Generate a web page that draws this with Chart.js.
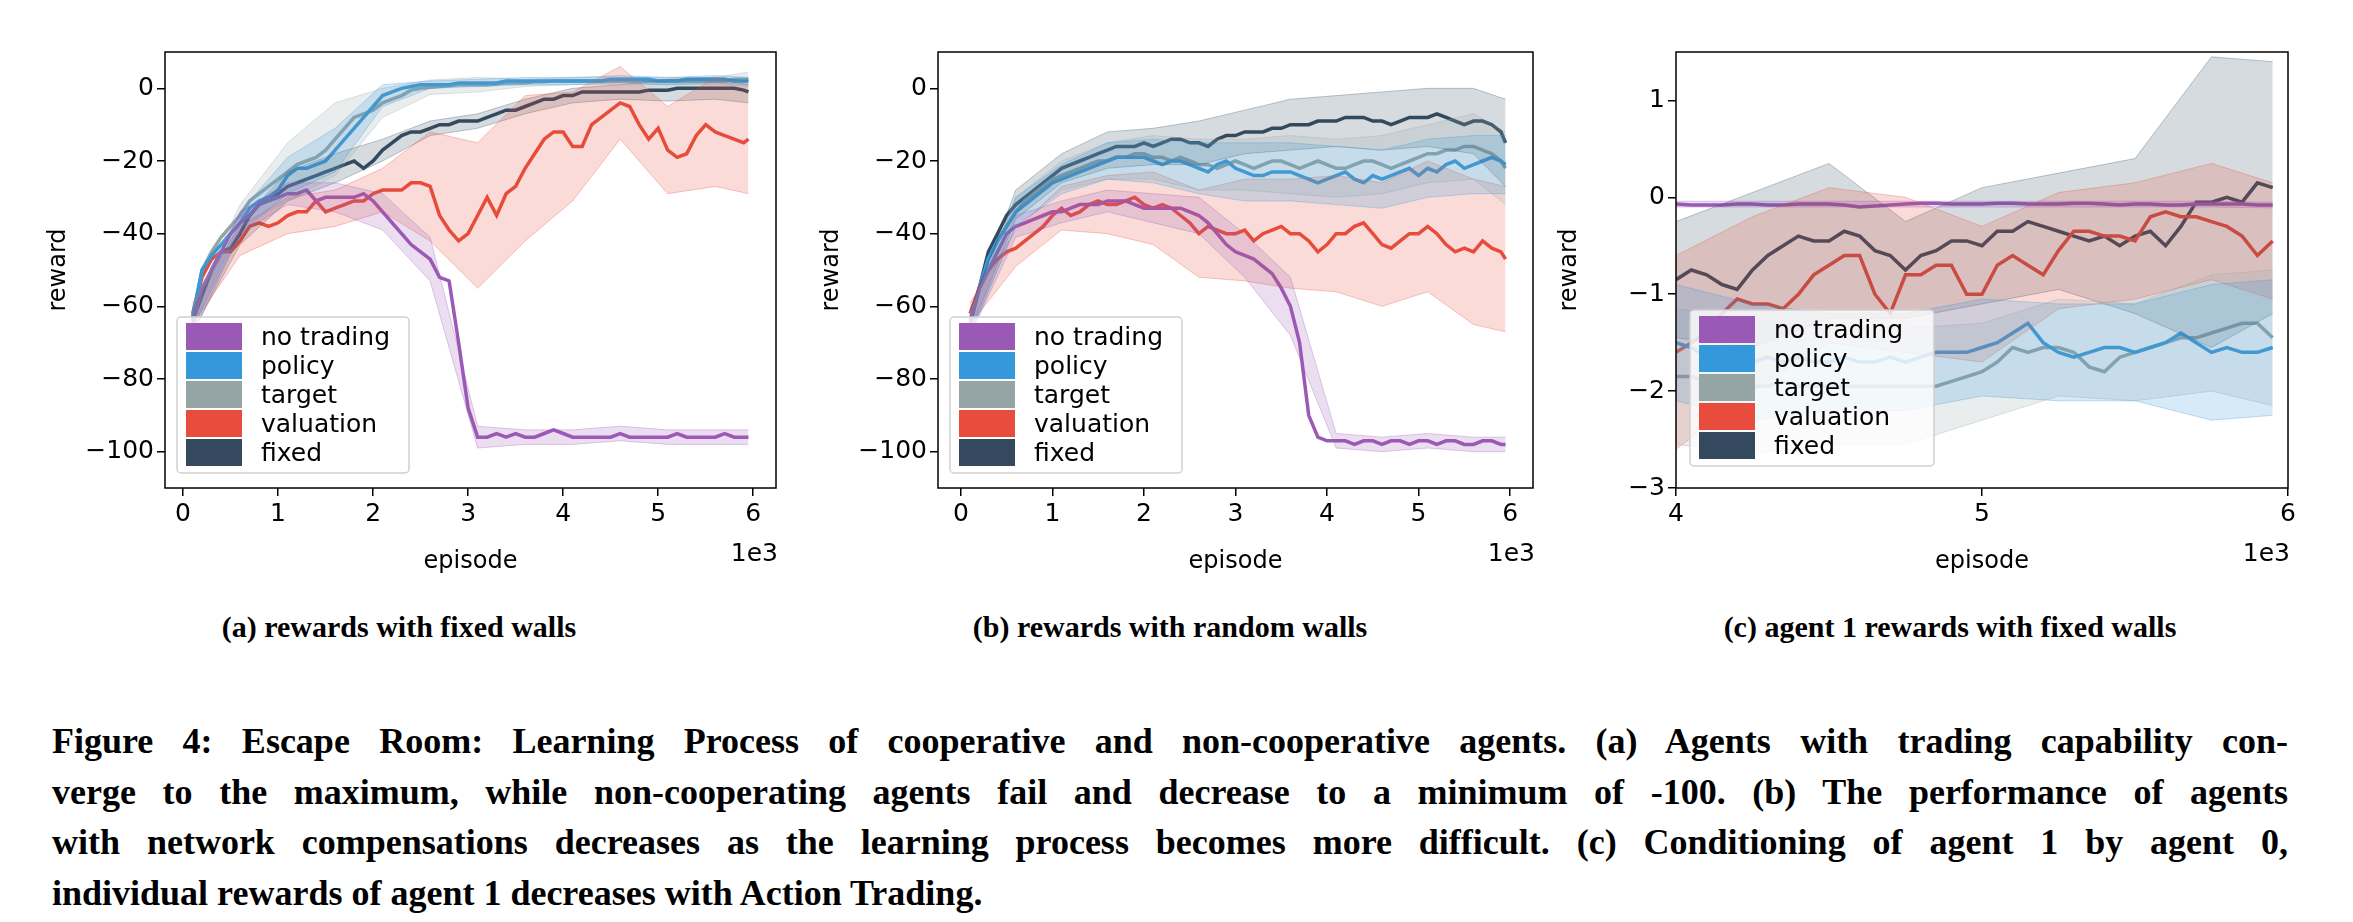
<!DOCTYPE html>
<html>
<head>
<meta charset="utf-8">
<script src="https://cdn.jsdelivr.net/npm/chart.js@4.4.0/dist/chart.umd.min.js"></script>
<style>
body { margin:0; background:#fff; width:2353px; height:922px; position:relative; overflow:hidden; }
.box { position:absolute; }
.sub { position:absolute; top:610px; font:bold 30px "Liberation Serif", serif; transform:translateX(-50%); white-space:nowrap; }
.cap { position:absolute; left:52px; width:2236px; top:716px; font:bold 36px/50.5px "Liberation Serif", serif; }
.cap div { text-align:justify; text-align-last:justify; white-space:nowrap; }
.cap div.last { text-align-last:left; }
</style>
</head>
<body>
<div class="box" style="left:40px;top:20px;width:760px;height:560px"><canvas id="ca"></canvas></div>
<div class="box" style="left:813px;top:20px;width:740px;height:560px"><canvas id="cb"></canvas></div>
<div class="box" style="left:1551px;top:20px;width:760px;height:560px"><canvas id="cc"></canvas></div>
<div class="sub" style="left:399px">(a) rewards with fixed walls</div>
<div class="sub" style="left:1170px">(b) rewards with random walls</div>
<div class="sub" style="left:1950px">(c) agent 1 rewards with fixed walls</div>
<div class="cap">
<div>Figure 4: Escape Room: Learning Process of cooperative and non-cooperative agents. (a) Agents with trading capability con-</div>
<div>verge to the maximum, while non-cooperating agents fail and decrease to a minimum of -100. (b) The performance of agents</div>
<div>with network compensations decreases as the learning process becomes more difficult. (c) Conditioning of agent 1 by agent 0,</div>
<div class="last">individual rewards of agent 1 decreases with Action Trading.</div>
</div>
<script>
const labels = ["no trading", "policy", "target", "valuation", "fixed"];
const colors = ["#9b59b6", "#3498db", "#95a5a6", "#e74c3c", "#34495e"];

// episodes 100..5950 for panels a and b
const episodesAB = [];
for (let e = 100; e <= 5900; e += 100) episodesAB.push(e);
episodesAB.push(5950);
const episodesC = [];
for (let e = 4000; e <= 5950; e += 50) episodesC.push(e);

// (a) fixed walls
const aNoTrading = [-65,-55,-50,-45,-40,-37,-35,-32,-31,-30,-29,-29,-28,-31,-30,-30,-30,-30,-29,-31,-34,-37,-40,-43,-45,-47,-52,-53,-70,-88,
  -96,-96,-95,-96,-95,-96,-96,-95,-94,-95,-96,-96,-96,-96,-96,-95,-96,-96,-96,-96,-96,-95,-96,-96,-96,-96,-95,-96,-96,-96];
const aPolicy = [-63,-50,-46,-43,-40,-37,-33,-31,-30,-28,-24,-22,-22,-21,-20,-17,-14,-11,-8,-5,-2,-1,0,0.5,1,1,1,1,1.5,1.5,
  1.5,1.5,1.5,2,2,2,2,2,2,2,2,2,2,2,2.5,2.5,2.5,2.5,2.5,2,2,2,2.5,2.5,2.5,2.5,2.5,2,2,2];
const aTarget = [-63,-50,-45,-41,-38,-35,-31,-29,-27,-25,-23,-21,-20,-19,-17,-14,-11,-8,-7,-6,-4,-3,-2,-0.5,0,0.3,0.5,0.7,1,1,
  1,1,1.2,1.5,1.5,1.5,1.8,1.8,2,2,2,2,2,2,2,2,2,2,2,2,2,2,2,2,2,2,2,2.5,2.5,2.5];
const aValuation = [-62,-52,-47,-45,-45,-42,-38,-37,-38,-37,-35,-34,-34,-31,-34,-33,-32,-31,-31,-29,-28,-28,-28,-26,-26,-27,-35,-39,-42,-40,
  -35,-30,-35,-29,-27,-22,-18,-14,-12,-12,-16,-16,-10,-8,-6,-4,-5,-10,-14,-11,-17,-19,-18,-13,-10,-12,-13,-14,-15,-14];
const aFixed = [-64,-57,-50,-45,-44,-40,-35,-32,-30,-29,-27,-26,-25,-24,-23,-22,-21,-20,-22,-20,-17,-15,-13,-12,-12,-11,-10,-10,-9,-9,
  -9,-8,-7,-6,-6,-5,-4,-3,-3,-2,-2,-1,-1,-1,-1,-1,-1,-1,-0.5,-0.5,-0.5,0,0,0,0,0,0,0,-0.5,-1];
const aSpread = [
  [3,3,3,4,5,6,3,2,2,2,2,2,2],
  [3,3,5,6,3,1,1,1,1,1,1,1,1],
  [3,3,8,10,4,2,2,1,1,1,1,1,2],
  [3,4,5,5,6,15,20,20,15,10,12,15,15],
  [3,3,4,4,3,2,2,2,2,2,3,3,3]];

// (b) random walls
const bNoTrading = [-65,-55,-50,-45,-40,-38,-37,-36,-35,-34,-34,-33,-32,-32,-32,-31,-31,-31,-32,-33,-33,-33,-33,-33,-34,-35,-37,-40,-43,-45,
  -46,-47,-49,-51,-55,-60,-70,-90,-96,-97,-97,-97,-98,-97,-97,-98,-97,-97,-98,-97,-97,-98,-97,-97,-98,-98,-97,-97,-98,-98];
const bPolicy = [-65,-55,-47,-42,-38,-34,-32,-30,-28,-26,-25,-24,-23,-22,-21,-20,-19,-19,-19,-19,-20,-21,-20,-20,-21,-22,-23,-21,-20,-22,
  -23,-24,-24,-23,-23,-23,-24,-25,-26,-25,-24,-23,-25,-26,-24,-25,-24,-23,-22,-24,-22,-23,-21,-20,-22,-21,-20,-19,-20,-21];
const bTarget = [-65,-55,-47,-42,-38,-34,-31,-29,-27,-25,-24,-23,-22,-21,-20,-20,-19,-19,-18,-18,-19,-19,-20,-19,-20,-21,-21,-22,-21,-20,
  -21,-22,-21,-20,-20,-21,-22,-21,-20,-21,-22,-22,-21,-20,-20,-21,-22,-21,-20,-19,-18,-18,-17,-17,-16,-16,-17,-18,-20,-22];
const bValuation = [-62,-55,-50,-47,-45,-44,-42,-40,-38,-35,-33,-35,-34,-32,-31,-32,-32,-31,-30,-32,-33,-32,-33,-35,-37,-40,-38,-39,-40,-40,
  -39,-42,-40,-39,-38,-40,-40,-42,-45,-43,-40,-40,-38,-37,-40,-43,-44,-42,-40,-40,-38,-40,-43,-45,-44,-45,-42,-44,-45,-47];
const bFixed = [-64,-55,-45,-40,-35,-32,-30,-28,-26,-24,-22,-21,-20,-19,-18,-17,-16,-16,-16,-15,-16,-15,-14,-14,-15,-15,-16,-14,-13,-13,
  -12,-12,-12,-11,-11,-10,-10,-10,-9,-9,-9,-8,-8,-8,-9,-9,-10,-9,-8,-8,-8,-7,-8,-9,-10,-9,-9,-10,-12,-15];
const bSpread = [
  [3,3,3,3,4,5,6,8,2,2,2,2,2],
  [3,4,4,5,6,7,8,8,8,8,8,8,8],
  [3,4,4,5,6,7,7,8,8,8,8,9,10],
  [3,5,6,8,10,12,14,15,16,17,18,20,20],
  [3,4,4,5,5,6,6,7,7,8,8,9,12]];

// (c) agent 1, episodes 4000..5950
const cNoTrading = [-0.07,-0.08,-0.08,-0.08,-0.07,-0.07,-0.08,-0.08,-0.07,-0.07,-0.07,-0.08,-0.1,-0.09,-0.08,-0.07,-0.06,-0.06,-0.07,-0.07,
  -0.07,-0.06,-0.06,-0.07,-0.07,-0.07,-0.06,-0.06,-0.07,-0.08,-0.07,-0.07,-0.08,-0.08,-0.07,-0.07,-0.07,-0.07,-0.08,-0.08];
const cPolicy = [-1.5,-1.55,-1.65,-1.7,-1.7,-1.7,-1.65,-1.7,-1.65,-1.7,-1.7,-1.65,-1.7,-1.7,-1.65,-1.7,-1.65,-1.6,-1.6,-1.6,
  -1.55,-1.5,-1.4,-1.3,-1.5,-1.6,-1.65,-1.6,-1.55,-1.55,-1.6,-1.55,-1.5,-1.4,-1.5,-1.6,-1.55,-1.6,-1.6,-1.55];
const cTarget = [-1.85,-1.85,-1.9,-1.9,-1.9,-1.95,-1.95,-1.9,-1.95,-1.95,-1.95,-1.95,-1.95,-1.95,-1.95,-1.95,-1.95,-1.95,-1.9,-1.85,
  -1.8,-1.7,-1.55,-1.6,-1.55,-1.55,-1.6,-1.75,-1.8,-1.65,-1.6,-1.55,-1.5,-1.45,-1.45,-1.4,-1.35,-1.3,-1.3,-1.45];
const cValuation = [-1.6,-1.5,-1.4,-1.2,-1.05,-1.1,-1.1,-1.15,-1.0,-0.8,-0.7,-0.6,-0.6,-1.0,-1.2,-0.8,-0.8,-0.7,-0.7,-1.0,
  -1.0,-0.7,-0.6,-0.7,-0.8,-0.55,-0.35,-0.35,-0.4,-0.4,-0.45,-0.2,-0.15,-0.2,-0.2,-0.25,-0.3,-0.4,-0.6,-0.45];
const cFixed = [-0.85,-0.75,-0.8,-0.9,-0.95,-0.75,-0.6,-0.5,-0.4,-0.45,-0.45,-0.35,-0.4,-0.55,-0.6,-0.75,-0.6,-0.55,-0.45,-0.45,
  -0.5,-0.35,-0.35,-0.25,-0.3,-0.35,-0.4,-0.45,-0.4,-0.5,-0.4,-0.35,-0.5,-0.3,-0.05,-0.05,0,-0.05,0.15,0.1];
const cSpread = [
  [0.03,0.03,0.03,0.03,0.03,0.03,0.03,0.03,0.03],
  [0.6,0.6,0.5,0.5,0.5,0.5,0.5,0.7,0.7],
  [0.7,0.7,0.6,0.6,0.5,0.5,0.5,0.6,0.7],
  [1.0,0.9,0.8,0.8,0.7,0.6,0.6,0.6,0.6],
  [0.6,0.8,0.8,0.5,0.6,0.6,0.8,1.5,1.3]];

function rgba(hex, a) {
  const n = parseInt(hex.slice(1), 16);
  return `rgba(${n >> 16},${(n >> 8) & 255},${n & 255},${a})`;
}

function buildSets(xs, series, spread) {
  let sets = [];
  let lines = [];
  series.forEach((ys, s) => {
    let idx = [];
    for (let i = 0; i < xs.length; i += 5) idx.push(i);
    if (idx[idx.length - 1] !== xs.length - 1) idx.push(xs.length - 1);
    const up = idx.map((i, k) => ({x: xs[i], y: ys[i] + spread[s][k]}));
    const lo = idx.map((i, k) => ({x: xs[i], y: ys[i] - spread[s][k]}));
    sets.push({data: up, borderColor: rgba(colors[s], 0.3), borderWidth: 1, pointRadius: 0, fill: '+1', backgroundColor: rgba(colors[s], 0.2), tension: 0});
    sets.push({data: lo, borderColor: rgba(colors[s], 0.3), borderWidth: 1, pointRadius: 0, fill: false});
    lines.push({data: xs.map((x, i) => ({x: x, y: ys[i]})), borderColor: colors[s], borderWidth: 3.5, pointRadius: 0, fill: false});
  });
  return sets.concat(lines);
}

const frame = {
  id: 'frame',
  afterDraw(chart, args, opts) {
    const c = chart.ctx, a = chart.chartArea;
    c.save();
    // legend
    const lx = a.left + opts.lx, lh = 156, ly = a.bottom - opts.lb - lh, lw = opts.lw;
    c.fillStyle = 'rgba(255,255,255,0.8)';
    c.strokeStyle = '#d0d0d0';
    c.lineWidth = 1.5;
    c.beginPath();
    c.roundRect(lx, ly, lw, lh, 4);
    c.fill(); c.stroke();
    c.font = '25px "DejaVu Sans"';
    c.textBaseline = 'middle';
    labels.forEach((t, i) => {
      const y = ly + 19 + i * 29;
      c.fillStyle = colors[i];
      c.fillRect(lx + 9, y - 13, 56, 27);
      c.fillStyle = '#000';
      c.fillText(t, lx + 84, y + 2);
    });
    c.strokeStyle = '#000';
    c.lineWidth = 1.5;
    c.strokeRect(a.left, a.top, a.right - a.left, a.bottom - a.top);
    c.fillStyle = '#000';
    c.textAlign = 'right';
    c.textBaseline = 'top';
    c.fillText('1e3', a.right + 2, a.bottom + 54);
    c.restore();
  }
};

function makeChart(id, xs, series, spread, o) {
  new Chart(document.getElementById(id), {
    type: 'line',
    data: {datasets: buildSets(xs, series, spread)},
    plugins: [frame],
    options: {
      animation: false, responsive: true, maintainAspectRatio: false, devicePixelRatio: 1,
      layout: {padding: {top: 32, right: o.right, left: 0, bottom: 0}},
      plugins: {legend: {display: false}, tooltip: {enabled: false}, frame: o.legend},
      scales: {
        x: {type: 'linear', min: o.xmin, max: o.xmax,
          afterBuildTicks: ax => { ax.ticks = o.xticks.map(v => ({value: v})); },
          grid: {drawOnChartArea: false, drawTicks: true, tickLength: 8, color: '#000', lineWidth: 1.5},
          border: {display: false},
          ticks: {color: '#000', font: {family: 'DejaVu Sans', size: 25}, callback: v => v / 1000, maxRotation: 0},
          title: {display: true, text: 'episode', color: '#000', font: {family: 'DejaVu Sans', size: 24}, padding: {top: 2}},
          afterFit: ax => { ax.height = 92; }},
        y: {min: o.ymin, max: o.ymax,
          afterBuildTicks: ax => { ax.ticks = o.yticks.map(v => ({value: v})); },
          grid: {drawOnChartArea: false, drawTicks: true, tickLength: 8, color: '#000', lineWidth: 1.5},
          border: {display: false},
          ticks: {color: '#000', font: {family: 'DejaVu Sans', size: 25}, callback: v => v < 0 ? '\u2212' + Math.abs(v) : '' + v},
          title: {display: true, text: 'reward', color: '#000', font: {family: 'DejaVu Sans', size: 24}},
          afterFit: ax => { ax.width = o.yw; }}
      }
    }
  });
}

makeChart('ca', episodesAB, [aNoTrading, aPolicy, aTarget, aValuation, aFixed], aSpread,
  {xmin: -190, xmax: 6240, xticks: [0,1000,2000,3000,4000,5000,6000], ymin: -110, ymax: 10, yticks: [-100,-80,-60,-40,-20,0],
   yw: 125, right: 24, legend: {lx: 12, lb: 15, lw: 232}});
makeChart('cb', episodesAB, [bNoTrading, bPolicy, bTarget, bValuation, bFixed], bSpread,
  {xmin: -250, xmax: 6250, xticks: [0,1000,2000,3000,4000,5000,6000], ymin: -110, ymax: 10, yticks: [-100,-80,-60,-40,-20,0],
   yw: 125, right: 20, legend: {lx: 12, lb: 15, lw: 232}});
makeChart('cc', episodesC, [cNoTrading, cPolicy, cTarget, cValuation, cFixed], cSpread,
  {xmin: 4000, xmax: 6000, xticks: [4000,5000,6000], ymin: -3, ymax: 1.5, yticks: [-3,-2,-1,0,1],
   yw: 125, right: 23, legend: {lx: 14, lb: 22, lw: 244}});
</script>
</body>
</html>
